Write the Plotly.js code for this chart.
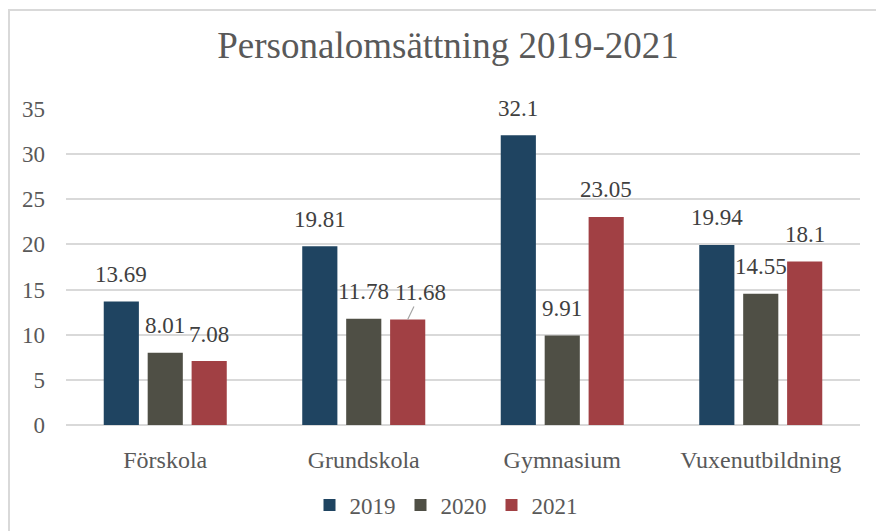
<!DOCTYPE html>
<html>
<head>
<meta charset="utf-8">
<script src="https://cdn.plot.ly/plotly-3.0.1.min.js"></script>
<style>
  html, body { margin: 0; padding: 0; background: #ffffff; }
  #wrap { position: relative; width: 876px; height: 531px; overflow: hidden; }
  #chart { position: absolute; left: 0; top: 0; width: 876px; height: 531px; }
  #frame { position: absolute; left: 8px; top: 9px; width: 900px; height: 600px;
           border-left: 2px solid #d9d9d9; border-top: 2px solid #d9d9d9; pointer-events: none; }
</style>
</head>
<body>
<div id="wrap"><div id="chart"></div><div id="frame"></div></div>
<script>
// ---- data ----
var categories = ['Förskola', 'Grundskola', 'Gymnasium', 'Vuxenutbildning'];
var seriesNames = ['2019', '2020', '2021'];
var values2019 = [13.69, 19.81, 32.1, 19.94];
var values2020 = [8.01, 11.78, 9.91, 14.55];
var values2021 = [7.08, 11.68, 23.05, 18.1];
var yTicks = [0, 5, 10, 15, 20, 25, 30, 35];

// ---- style ----
var seriesValues = [values2019, values2020, values2021];
var colors = ['#1F4461', '#4F4F45', '#A14044'];
var FONT = 'Liberation Serif';
var W = 876, H = 531;
var margin = {l: 66, r: 16, t: 109, b: 106};
var bargap = 0.336, bargroupgap = 0.2;

var traces = seriesValues.map(function (vals, i) {
  return {
    type: 'bar',
    name: seriesNames[i],
    x: categories,
    y: vals,
    marker: {color: colors[i]},
    hoverinfo: 'skip'
  };
});

// label placement (computed from layout geometry)
var plotW = W - margin.l - margin.r;
var slot = plotW / categories.length * (1 - bargap) / seriesNames.length;
var labelGap = 27;            // px from bar top to label centre
var leaderNudge = {'2021|Grundskola': 13};  // label moved aside with a leader line

var annotations = [];
seriesValues.forEach(function (vals, i) {
  var off = (i - (seriesNames.length - 1) / 2) * slot;
  vals.forEach(function (v, j) {
    var key = seriesNames[i] + '|' + categories[j];
    var base = {
      x: categories[j], y: v, xref: 'x', yref: 'y',
      text: String(v),
      font: {family: FONT, size: 23, color: '#404040'},
      xshift: off
    };
    if (leaderNudge[key]) {
      base.showarrow = true;
      base.arrowhead = 0;
      base.arrowwidth = 1.2;
      base.arrowcolor = '#a6a6a6';
      base.standoff = 0;
      base.ax = leaderNudge[key];
      base.ay = -labelGap;
    } else {
      base.showarrow = false;
      base.yshift = labelGap;
      base.yanchor = 'middle';
    }
    annotations.push(base);
  });
});

var layout = {
  width: W, height: H,
  margin: margin,
  paper_bgcolor: '#ffffff',
  plot_bgcolor: '#ffffff',
  font: {family: FONT, size: 23, color: '#595959'},
  barmode: 'group',
  bargap: bargap,
  bargroupgap: bargroupgap,
  showlegend: true,
  title: {
    text: 'Personalomsättning 2019-2021',
    font: {family: FONT, size: 37, color: '#595959'},
    x: 448 / W, xanchor: 'center', xref: 'container',
    y: 1 - 45 / H, yanchor: 'middle', yref: 'container'
  },
  xaxis: {
    type: 'category',
    tickfont: {family: FONT, size: 24, color: '#595959'},
    showgrid: false,
    showline: false,
    ticks: '',
    ticklabelstandoff: 18,
    fixedrange: true
  },
  yaxis: {
    range: [0, 35],
    tickvals: yTicks,
    ticktext: yTicks.map(String),
    tickfont: {family: FONT, size: 23, color: '#595959'},
    showgrid: true,
    gridcolor: '#d9d9d9',
    gridwidth: 1.5,
    zeroline: true,
    zerolinecolor: '#d9d9d9',
    zerolinewidth: 2,
    showline: false,
    ticks: '',
    ticklabelstandoff: 20,
    fixedrange: true
  },
  legend: {
    orientation: 'h',
    x: (446 - margin.l) / plotW, xanchor: 'center',
    y: 1 - 505 / H, yref: 'container', yanchor: 'middle',
    font: {family: FONT, size: 23, color: '#595959'},
    bgcolor: 'rgba(0,0,0,0)'
  },
  annotations: annotations
};

Plotly.newPlot('chart', traces, layout, {displayModeBar: false});
</script>
</body>
</html>
